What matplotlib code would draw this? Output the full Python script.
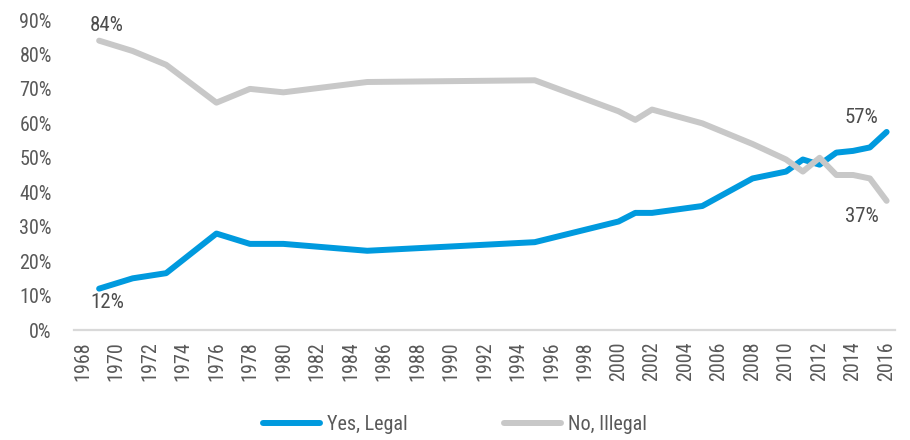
"""Marijuana legalization opinion, 1969-2016 (line chart)."""

import matplotlib

matplotlib.use("Agg")
import matplotlib.pyplot as plt  # noqa: E402
from matplotlib import font_manager  # noqa: E402

years = [1969, 1971, 1973, 1976, 1978, 1980, 1985, 1995, 2000, 2001,
         2002, 2005, 2008, 2010, 2011, 2012, 2013, 2014, 2015, 2016]
yes_legal = [12, 15, 16.5, 28, 25, 25, 23, 25.5, 31.5, 34,
             34, 36, 44, 46, 49.5, 48, 51.5, 52, 53, 57.5]
no_illegal = [84, 81, 77, 66, 70, 69, 72, 72.5, 63.5, 61,
              64, 60, 54, 49.5, 46, 50, 45, 45, 44, 37.5]
tick_years = list(range(1968, 2017, 2))
y_ticks = list(range(0, 91, 10))

BLUE = "#009ADE"
GREY = "#C8C8C8"
TXT = "#595959"

# narrow font if there is one, else Roboto
names = {f.name for f in font_manager.fontManager.ttflist}
font, fs = "Roboto", 13
for cand in ("Roboto Condensed", "Liberation Sans Narrow", "Open Sans Condensed"):
    if cand in names:
        font, fs = cand, 14.5
        break
plt.rcParams["font.family"] = [font, "DejaVu Sans"]

fig = plt.figure(figsize=(9.1, 4.4), dpi=100)
ax = fig.add_axes([74 / 910, 110 / 440, 821 / 910, 310 / 440])

ax.plot(years, yes_legal, color=BLUE, lw=4.3, solid_capstyle="round",
        solid_joinstyle="round", label="Yes, Legal")
ax.plot(years, no_illegal, color=GREY, lw=4.3, solid_capstyle="round",
        solid_joinstyle="round", label="No, Illegal")

# end-point labels
lbl = dict(textcoords="offset pixels", ha="center", va="center",
           fontsize=fs + 0.5, color="#4D4D4D")
ax.annotate(f"{no_illegal[0]:.0f}%", (years[0], no_illegal[0]), xytext=(8, 15), **lbl)
ax.annotate(f"{yes_legal[0]:.0f}%", (years[0], yes_legal[0]), xytext=(8, -14), **lbl)
ax.annotate("57%", (years[-1], yes_legal[-1]), xytext=(-25, 14), **lbl)
ax.annotate("37%", (years[-1], no_illegal[-1]), xytext=(-25, -16), **lbl)

ax.set_xlim(1967.5, 2016.5)
ax.set_ylim(0, 90)
ax.set_xticks(tick_years)
ax.set_xticklabels([str(y) for y in tick_years], rotation=90)
ax.set_yticks(y_ticks)
ax.set_yticklabels([f"{v}%" for v in y_ticks])
ax.tick_params(axis="both", length=0, labelsize=fs, colors=TXT)
ax.tick_params(axis="x", pad=8)
ax.tick_params(axis="y", pad=16)

for s in ("top", "right", "left"):
    ax.spines[s].set_visible(False)
ax.spines["bottom"].set_color("#D9D9D9")
ax.spines["bottom"].set_linewidth(1.6)

fig.legend(loc="center", bbox_to_anchor=(0.5, 0.035), ncol=2, frameon=False,
           fontsize=fs, labelcolor=TXT, handlelength=2.8, handletextpad=0.35,
           columnspacing=4.8)

fig.savefig("out.png", dpi=100)
